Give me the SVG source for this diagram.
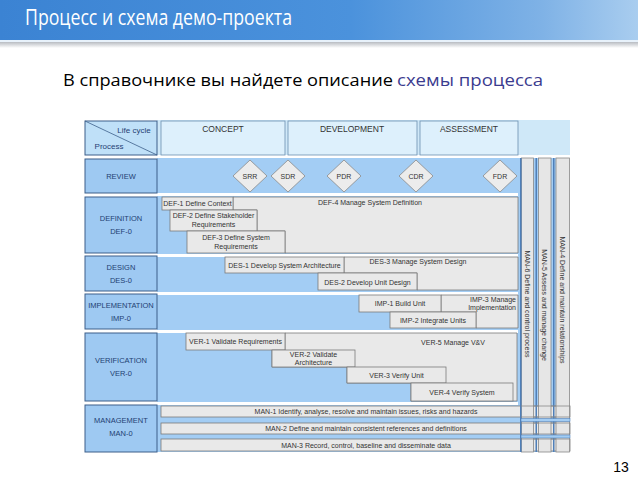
<svg xmlns="http://www.w3.org/2000/svg" width="638" height="479" viewBox="0 0 638 479">
<defs>
<linearGradient id="hdr" x1="0" y1="0" x2="1" y2="0">
<stop offset="0" stop-color="#3b83d3"/>
<stop offset="0.55" stop-color="#4b92dc"/>
<stop offset="0.85" stop-color="#7fb2e6"/>
<stop offset="1" stop-color="#a9cdef"/>
</linearGradient>
<linearGradient id="shadow" x1="0" y1="0" x2="0" y2="1">
<stop offset="0" stop-color="#b8bcc2"/>
<stop offset="1" stop-color="#ffffff"/>
</linearGradient>
</defs>
<style>
.t{font-family:"Liberation Sans",Arial,sans-serif;font-size:7px;fill:#333;text-anchor:middle}
.lab{font-family:"Liberation Sans",Arial,sans-serif;font-size:7.5px;fill:#1f3f73;text-anchor:middle}
.hd{font-family:"Liberation Sans",Arial,sans-serif;font-size:8.5px;fill:#333;text-anchor:middle}
.box{fill:#e9e9e9;stroke:#7a7a7a;stroke-width:0.8}
.band{fill:#a3cdf4}
.lc{fill:#9ec9f2;stroke:#3d5f8a;stroke-width:1}
.hc{fill:#ddf0fc;stroke:#6b8fb0;stroke-width:0.8}
.dia{fill:#ececec;stroke:#8a8a8a;stroke-width:0.8}
.col{fill:#e6e6e6;stroke:#888;stroke-width:0.8}
</style>
<rect width="638" height="479" fill="#ffffff"/>
<!-- header -->
<rect x="0" y="0" width="638" height="41" fill="url(#hdr)"/>
<rect x="0" y="40" width="638" height="2" fill="#e8f2fb"/>
<rect x="0" y="42" width="638" height="6" fill="url(#shadow)"/>
<text x="25" y="25" font-family="'Open Sans','Noto Sans',sans-serif" font-size="21" fill="#ffffff" textLength="267" lengthAdjust="spacingAndGlyphs">Процесс и схема демо-проекта</text>
<text x="63" y="86" font-family="'Open Sans','Noto Sans',sans-serif" font-size="17" fill="#000000" textLength="330" lengthAdjust="spacingAndGlyphs">В справочнике вы найдете описание</text>
<text x="397" y="86" font-family="'Open Sans','Noto Sans',sans-serif" font-size="17" fill="#3b3b8f" textLength="146" lengthAdjust="spacingAndGlyphs">схемы процесса</text>

<!-- header row -->
<g id="header-row">
<rect x="157" y="120" width="413" height="35" fill="#cfe8f8"/>
<rect x="85" y="121" width="72" height="34" fill="#bfe0f8" stroke="#3d5f8a" stroke-width="1"/>
<line x1="85" y1="121" x2="157" y2="155" stroke="#3d5f8a" stroke-width="0.8"/>
<text x="134" y="133" class="lab" style="font-size:8px">Life cycle</text>
<text x="109" y="149" class="lab" style="font-size:8px">Process</text>
</g>
<g id="concept"><rect x="161" y="121" width="124" height="34" class="hc"/><text x="223" y="132" class="hd">CONCEPT</text></g>
<g id="development"><rect x="288" y="121" width="129" height="34" class="hc"/><text x="352" y="132" class="hd">DEVELOPMENT</text></g>
<g id="assessment"><rect x="420" y="121" width="98" height="34" class="hc"/><text x="469" y="132" class="hd">ASSESSMENT</text></g>

<!-- row bands -->
<g id="bands">
<rect x="157" y="158" width="363" height="35" class="band"/>
<rect x="157" y="196" width="363" height="58" class="band"/>
<rect x="157" y="257" width="363" height="35" class="band"/>
<rect x="157" y="295" width="363" height="35" class="band"/>
<rect x="157" y="333" width="363" height="69" class="band"/>
<rect x="157" y="405" width="363" height="47" class="band"/>
<rect x="518" y="158" width="40" height="294" fill="#a3cdf4"/>
</g>

<!-- left labels -->
<g id="review-label"><rect x="85" y="159" width="72" height="34" class="lc"/><text x="121" y="179" class="lab">REVIEW</text></g>
<g id="definition-label"><rect x="85" y="197" width="72" height="56" class="lc"/><text x="121" y="221" class="lab">DEFINITION</text><text x="121" y="234" class="lab">DEF-0</text></g>
<g id="design-label"><rect x="85" y="256" width="72" height="35" class="lc"/><text x="121" y="270" class="lab">DESIGN</text><text x="121" y="283" class="lab">DES-0</text></g>
<g id="implementation-label"><rect x="85" y="294" width="72" height="35" class="lc"/><text x="121" y="308" class="lab">IMPLEMENTATION</text><text x="121" y="321" class="lab">IMP-0</text></g>
<g id="verification-label"><rect x="85" y="333" width="72" height="68" class="lc"/><text x="121" y="363" class="lab">VERIFICATION</text><text x="121" y="376" class="lab">VER-0</text></g>
<g id="management-label"><rect x="85" y="405" width="72" height="47" class="lc"/><text x="121" y="423" class="lab">MANAGEMENT</text><text x="121" y="436" class="lab">MAN-0</text></g>

<!-- review diamonds -->
<g id="srr"><polygon points="250,160 267,176 250,192 233,176" class="dia"/><text x="250" y="179" class="t">SRR</text></g>
<g id="sdr"><polygon points="288,160 305,176 288,192 271,176" class="dia"/><text x="288" y="179" class="t">SDR</text></g>
<g id="pdr"><polygon points="344,160 361,176 344,192 327,176" class="dia"/><text x="344" y="179" class="t">PDR</text></g>
<g id="cdr"><polygon points="416,160 433,176 416,192 399,176" class="dia"/><text x="416" y="179" class="t">CDR</text></g>
<g id="fdr"><polygon points="500,160 517,176 500,192 483,176" class="dia"/><text x="500" y="179" class="t">FDR</text></g>

<!-- definition -->
<g id="def-4"><polygon points="233,197 518,197 518,253 285,253 285,231 257,231 257,210 233,210" class="box"/><text x="370" y="205" class="t">DEF-4 Manage System Definition</text></g>
<g id="def-1"><rect x="162" y="197" width="71" height="13" class="box"/><text x="197.5" y="206" class="t">DEF-1 Define Context</text></g>
<g id="def-2"><rect x="170" y="210" width="87" height="21" class="box"/><text x="213.5" y="218" class="t">DEF-2 Define Stakeholder</text><text x="213.5" y="227" class="t">Requirements</text></g>
<g id="def-3"><rect x="187" y="231" width="98" height="22" class="box"/><text x="236" y="240" class="t">DEF-3 Define System</text><text x="236" y="249" class="t">Requirements</text></g>

<!-- design -->
<g id="des-3"><polygon points="344,257 518,257 518,290 417,290 417,273 344,273" class="box"/><text x="418" y="264" class="t">DES-3 Manage System Design</text></g>
<g id="des-1"><rect x="225" y="257" width="119" height="16" class="box"/><text x="284.5" y="267.5" class="t">DES-1 Develop System Architecture</text></g>
<g id="des-2"><rect x="318" y="273" width="99" height="17" class="box"/><text x="367.5" y="284.5" class="t">DES-2 Develop Unit Design</text></g>

<!-- implementation -->
<g id="imp-3"><polygon points="441,295 518,295 518,328 476,328 476,312 441,312" class="box"/><text x="516" y="302" class="t" style="text-anchor:end">IMP-3 Manage</text><text x="516" y="309.5" class="t" style="text-anchor:end">Implementation</text></g>
<g id="imp-1"><rect x="359" y="295" width="82" height="17" class="box"/><text x="400" y="306" class="t">IMP-1 Build Unit</text></g>
<g id="imp-2"><rect x="390" y="312" width="86" height="16" class="box"/><text x="433" y="322.5" class="t">IMP-2 Integrate Units</text></g>

<!-- verification -->
<g id="ver-5"><polygon points="285,333 517,333 517,401 411,401 411,383 347,383 347,367 272,367 272,350 285,350" class="box"/><text x="453" y="345" class="t">VER-5 Manage V&amp;V</text></g>
<g id="ver-1"><rect x="186" y="333" width="99" height="17" class="box"/><text x="235.5" y="344" class="t">VER-1 Validate Requirements</text></g>
<g id="ver-2"><rect x="272" y="350" width="83" height="17" class="box"/><text x="313.5" y="357" class="t">VER-2 Validate</text><text x="313.5" y="364.5" class="t">Architecture</text></g>
<g id="ver-3"><rect x="347" y="367" width="99" height="16" class="box"/><text x="396.5" y="378" class="t">VER-3 Verify Unit</text></g>
<g id="ver-4"><rect x="411" y="383" width="102" height="18" class="box"/><text x="462" y="395" class="t">VER-4 Verify System</text></g>

<!-- management bars -->
<g id="man-1"><rect x="161" y="406" width="409" height="11" class="box"/><text x="366" y="414" class="t">MAN-1 Identify, analyse, resolve and maintain issues, risks and hazards</text></g>
<g id="man-2"><rect x="161" y="423" width="409" height="11" class="box"/><text x="366" y="431" class="t">MAN-2 Define and maintain consistent references and definitions</text></g>
<g id="man-3"><rect x="161" y="439" width="409" height="12" class="box"/><text x="366" y="447.5" class="t">MAN-3 Record, control, baseline and disseminate data</text></g>

<!-- vertical columns -->
<g id="man-6"><rect x="521.5" y="158" width="12" height="294" class="col"/><rect x="520" y="158" width="1.5" height="294" fill="#4f7fb8"/><text x="527.5" y="304" class="t" dominant-baseline="central" transform="rotate(90 527.5 304)">MAN-6 Define and control process</text></g>
<g id="man-5"><rect x="538.5" y="158" width="12.5" height="294" class="col"/><rect x="535.5" y="158" width="1.5" height="294" fill="#4f7fb8"/><text x="544.5" y="305" class="t" dominant-baseline="central" transform="rotate(90 544.5 305)">MAN-5 Assess and manage change</text></g>
<g id="man-4"><rect x="556" y="158" width="13.5" height="294" class="col"/><rect x="553" y="158" width="1.5" height="294" fill="#4f7fb8"/><text x="562.5" y="300" class="t" dominant-baseline="central" transform="rotate(90 562.5 300)">MAN-4 Define and maintain relationships</text></g>
<g id="column-crossings" stroke-width="0.8">
<line x1="521" y1="406" x2="570" y2="406" stroke="#888"/>
<line x1="521" y1="417" x2="570" y2="417" stroke="#888"/>
<rect x="521" y="418.5" width="49" height="3" fill="#a3cdf4" stroke="#4f7fb8" stroke-width="0.6"/>
<line x1="521" y1="423" x2="570" y2="423" stroke="#888"/>
<line x1="521" y1="434" x2="570" y2="434" stroke="#888"/>
<rect x="521" y="435" width="49" height="3" fill="#a3cdf4" stroke="#4f7fb8" stroke-width="0.6"/>
<line x1="521" y1="439" x2="570" y2="439" stroke="#888"/>
</g>

<text x="621" y="472" font-family="'Liberation Sans',Arial,sans-serif" font-size="14" fill="#000" text-anchor="middle">13</text>
</svg>
